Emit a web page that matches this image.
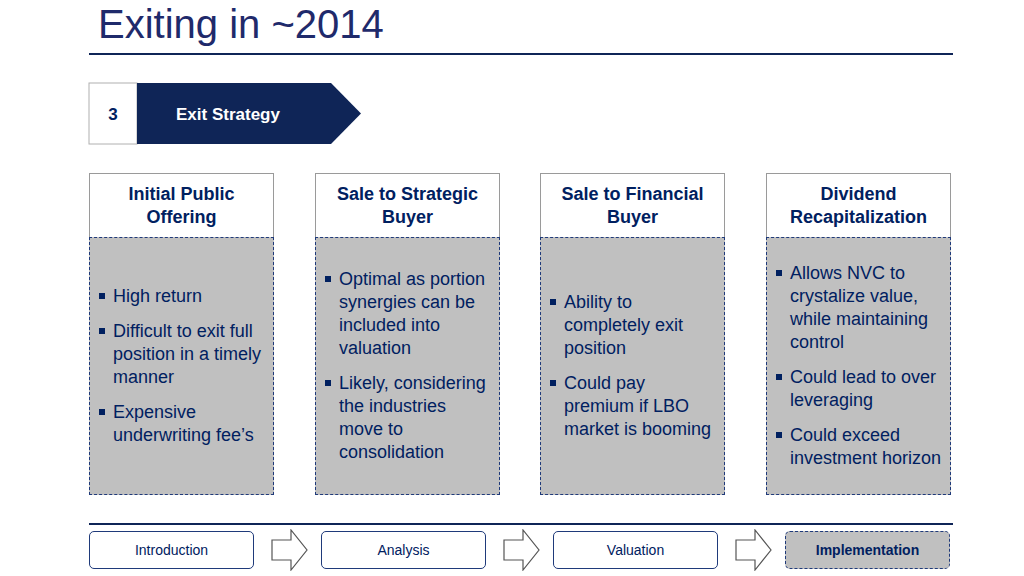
<!DOCTYPE html>
<html><head><meta charset="utf-8">
<script src="https://cdn.jsdelivr.net/npm/chart.js@4/dist/chart.umd.min.js"></script>
<style>
body{margin:0;width:1024px;height:576px;background:#fff;font-family:"Liberation Sans",Arial,sans-serif;position:relative;overflow:hidden}
.abs{position:absolute}
#title{left:98px;top:2px;font-size:40px;color:#1f2a6b}
.hr{height:2px;background:#0f2557}
.col{position:absolute;top:173px;width:185px}
.head{height:63px;border:1px solid #9a9a9a;border-bottom:none;background:#fff;display:flex;align-items:center;justify-content:center;text-align:center;color:#002060;font-weight:bold;font-size:18px;line-height:23px}
.body{height:258px;background:#c0c0c0;border:1.5px dashed #1f3a7a;box-sizing:border-box;display:flex;flex-direction:column;justify-content:center;padding:0 8px 0 8px;color:#002060;font-size:18px;line-height:23px}
.b{position:relative;padding-left:15px;margin:6px 0}
.b:before{content:"";position:absolute;left:1px;top:8px;width:6px;height:6px;background:#002060}
.nav{position:absolute;top:531px;width:165px;height:38px;border:1px solid #1f3a7a;border-radius:5px;display:flex;align-items:center;justify-content:center;font-size:14px;color:#002060;box-sizing:border-box}
</style></head><body>
<div id="title" class="abs">Exiting in ~2014</div>
<div class="abs hr" style="left:89px;top:53px;width:864px"></div>
<svg class="abs" style="left:88px;top:82px" width="280" height="64">
  <rect x="1" y="1" width="48" height="61" fill="#fff" stroke="#b0b0b0"/>
  <polygon points="49,1 243,1 273,31.5 243,62 49,62" fill="#0f2557"/>
  <text x="25" y="38" text-anchor="middle" font-size="17" font-weight="bold" fill="#002060" font-family="Liberation Sans">3</text>
  <text x="140" y="38" text-anchor="middle" font-size="17" font-weight="bold" fill="#fff" font-family="Liberation Sans">Exit Strategy</text>
</svg>
<div id="cols"></div>
<div class="abs hr" style="left:89px;top:523px;width:864px;height:1.5px"></div>
<div id="navs"></div>
<canvas id="c" class="abs" style="left:0;top:0;pointer-events:none" width="1" height="1"></canvas>
<script>
const colTitles = ['Initial Public<br>Offering', 'Sale to Strategic<br>Buyer', 'Sale to Financial<br>Buyer', 'Dividend<br>Recapitalization'];
const colBullets = [
  ['High return', 'Difficult to exit full position in a timely manner', 'Expensive underwriting fee’s'],
  ['Optimal as portion synergies can be included into valuation', 'Likely, considering the industries move to consolidation'],
  ['Ability to completely exit position', 'Could pay premium if LBO market is booming'],
  ['Allows NVC to crystalize value, while maintaining control', 'Could lead to over leveraging', 'Could exceed investment horizon']
];
const navLabels = ['Introduction', 'Analysis', 'Valuation', 'Implementation'];
const colX = [89, 315, 540, 766];
const navX = [89, 321, 553, 785];

let html = '';
colTitles.forEach((t, i) => {
  html += `<div class="col" style="left:${colX[i]}px"><div class="head">${t}</div><div class="body">` +
    colBullets[i].map(b => `<div class="b">${b}</div>`).join('') + '</div></div>';
});
document.getElementById('cols').innerHTML = html;

let nh = '';
navLabels.forEach((n, i) => {
  const last = i === navLabels.length - 1;
  nh += `<div class="nav" style="left:${navX[i]}px;${last ? 'background:#c0c0c0;border:1.5px dashed #1f3a7a;font-weight:bold' : ''}">${n}</div>`;
  if (!last) {
    const ax = navX[i] + 182;
    nh += `<svg class="abs" style="left:${ax}px;top:529px" width="38" height="42"><polygon points="1,11 20,11 20,1 36,21 20,41 20,31 1,31" fill="#fff" stroke="#555" stroke-width="1.2"/></svg>`;
  }
});
document.getElementById('navs').innerHTML = nh;
</script>
</body></html>
